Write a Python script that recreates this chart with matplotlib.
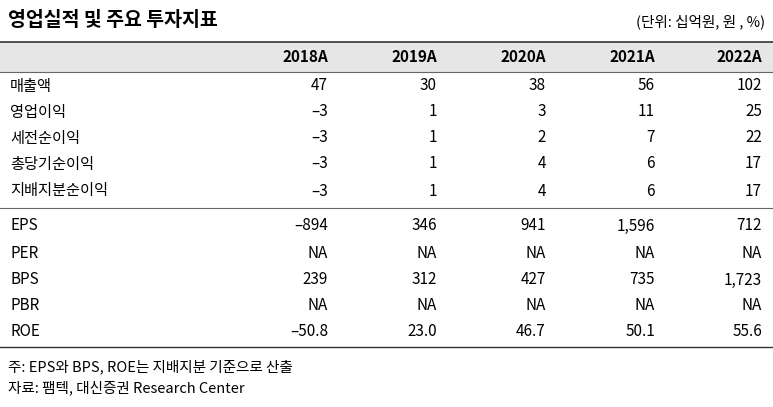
import matplotlib
matplotlib.use("Agg")
import matplotlib.pyplot as plt
from matplotlib import font_manager

# pick whichever CJK family matplotlib actually registered
cjk = [f.name for f in font_manager.fontManager.ttflist if "CJK" in f.name]
pref = [n for n in ["Noto Sans CJK KR", "Noto Sans CJK JP", "Noto Sans CJK SC", "Noto Sans CJK TC"] if n in cjk]
plt.rcParams["font.family"] = (pref + cjk + ["DejaVu Sans"])[:3]

title = "영업실적 및 주요 투자지표"
unit = "(단위: 십억원, 원 , %)"
years = ["2018A", "2019A", "2020A", "2021A", "2022A"]
labels_top = ["매출액", "영업이익", "세전순이익", "총당기순이익", "지배지분순이익"]
values_top = [
    ["47", "30", "38", "56", "102"],
    ["–3", "1", "3", "11", "25"],
    ["–3", "1", "2", "7", "22"],
    ["–3", "1", "4", "6", "17"],
    ["–3", "1", "4", "6", "17"],
]
labels_bot = ["EPS", "PER", "BPS", "PBR", "ROE"]
values_bot = [
    ["–894", "346", "941", "1,596", "712"],
    ["NA", "NA", "NA", "NA", "NA"],
    ["239", "312", "427", "735", "1,723"],
    ["NA", "NA", "NA", "NA", "NA"],
    ["–50.8", "23.0", "46.7", "50.1", "55.6"],
]
notes = ["주: EPS와 BPS, ROE는 지배지분 기준으로 산출", "자료: 팸텍, 대신증권 Research Center"]

W, H = 773, 407
fig = plt.figure(figsize=(W / 100, H / 100), dpi=100)
ax = fig.add_axes([0, 0, 1, 1])
ax.set_xlim(0, W)
ax.set_ylim(H, 0)
ax.axis("off")

fs = 11
col_x = [328, 437, 546, 655, 762]

ax.text(8, 20, title, fontsize=14, fontweight="bold", va="center", ha="left")
ax.text(765, 22, unit, fontsize=10.5, va="center", ha="right")

# header band
ax.add_patch(plt.Rectangle((0, 42), W, 30, color="#e6e6e6", lw=0))
ax.plot([0, W], [42, 42], color="#333333", lw=1.2)
ax.plot([0, W], [72, 72], color="#666666", lw=0.8)
for x, y in zip(col_x, years):
    ax.text(x, 57, y, fontsize=fs, fontweight="bold", ha="right", va="center")

row_y_top = [86, 112, 138, 164, 191]
row_y_bot = [226, 253, 280, 306, 332]

for y, lab, vals in zip(row_y_top, labels_top, values_top):
    ax.text(10, y, lab, fontsize=fs, ha="left", va="center")
    for x, v in zip(col_x, vals):
        ax.text(x, y, v, fontsize=fs, ha="right", va="center")

ax.plot([0, W], [208, 208], color="#666666", lw=0.8)

for y, lab, vals in zip(row_y_bot, labels_bot, values_bot):
    ax.text(10, y, lab, fontsize=fs, ha="left", va="center")
    for x, v in zip(col_x, vals):
        ax.text(x, y, v, fontsize=fs, ha="right", va="center")

ax.plot([0, W], [347, 347], color="#333333", lw=1.0)

ax.text(8, 367, notes[0], fontsize=10.5, ha="left", va="center")
ax.text(8, 388, notes[1], fontsize=10.5, ha="left", va="center")

fig.savefig("out.png", dpi=100)
